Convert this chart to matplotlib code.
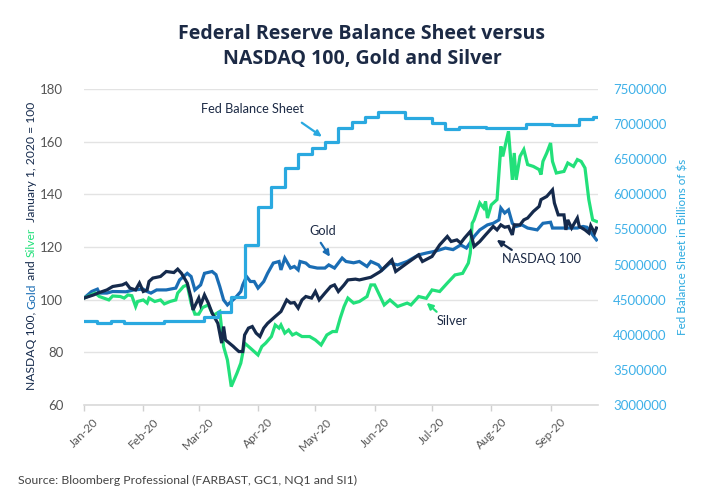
import matplotlib
matplotlib.use('Agg')
import matplotlib.pyplot as plt
import matplotlib.dates as mdates
import matplotlib.ticker as mticker
import pandas as pd

plt.rcParams['font.family'] = ['Lato', 'DejaVu Sans']

START = pd.Timestamp('2020-01-01')

# ---- data (days since 1 Jan 2020, index values Jan 1 2020 = 100) ----
nasdaq_day = [0, 5, 8, 12, 15, 20, 22, 24, 27, 28, 29, 31, 33, 34, 36, 40, 43, 47, 49, 51, 54, 56, 57, 60, 61,
              63, 65, 67, 68, 70, 72, 73, 74, 76, 78, 79, 81, 83, 84, 86, 88, 90, 92, 94, 96, 98, 100, 103, 106,
              108, 110, 112, 114, 116, 119, 121, 123, 126, 129, 131, 133, 136, 138, 142, 144, 150, 155, 161, 163,
              169, 175, 177, 182, 186, 190, 192, 195, 197, 199, 202, 204, 207, 210, 214, 216, 218, 220, 222, 224,
              225, 228, 230, 232, 235, 238, 239, 242, 245, 246, 248, 251, 252, 253, 255, 258, 259, 262, 264, 265,
              267, 268]
nasdaq_val = [100.6, 101.8, 102.7, 103.7, 105.0, 105.6, 106.3, 104.4, 103.7, 105.0, 106.3, 103.1, 103.7, 106.9,
              108.2, 108.8, 110.7, 110.3, 111.6, 110.0, 106.3, 100.6, 96.1, 100.6, 98.0, 101.8, 98.7, 94.9, 93.6,
              91.0, 83.5, 89.8, 84.7, 83.5, 82.3, 81.6, 80.3, 80.3, 86.6, 89.2, 89.8, 87.3, 86.0, 89.2, 91.0, 92.3,
              93.6, 95.5, 99.9, 98.7, 98.9, 96.8, 99.9, 101.2, 100.6, 103.1, 99.9, 102.5, 105.0, 105.6, 103.1,
              105.6, 107.5, 107.8, 107.5, 108.5, 110.7, 115.1, 110.7, 113.9, 117.0, 114.5, 116.4, 120.8, 124.0,
              122.1, 122.7, 121.5, 123.4, 125.9, 120.2, 122.1, 124.6, 127.8, 126.5, 128.4, 127.5, 127.8, 124.6,
              128.4, 128.4, 130.3, 131.0, 133.5, 135.4, 138.0, 139.2, 141.7, 136.7, 132.2, 132.2, 126.5, 130.3,
              127.2, 131.0, 127.8, 126.5, 125.3, 128.1, 125.3, 127.2]

gold_day = [0, 4, 7, 8, 12, 15, 22, 26, 31, 33, 35, 38, 43, 48, 50, 54, 56, 58, 61, 63, 67, 69, 71, 73, 75, 77,
            79, 82, 83, 85, 87, 89, 91, 94, 96, 99, 102, 103, 105, 108, 110, 112, 113, 116, 118, 122, 126, 128,
            131, 135, 137, 141, 144, 148, 150, 154, 156, 160, 164, 169, 175, 179, 183, 186, 189, 193, 197, 200,
            203, 204, 207, 211, 214, 217, 218, 220, 222, 224, 226, 229, 232, 237, 240, 244, 245, 252, 258, 261,
            263, 266, 268]
gold_val = [100.6, 103.1, 104.0, 102.5, 102.5, 103.1, 103.0, 103.7, 104.0, 103.1, 102.5, 103.7, 103.7, 104.4,
            107.5, 110.0, 108.8, 103.7, 105.6, 110.0, 110.7, 109.5, 105.0, 99.9, 98.0, 99.3, 100.6, 103.1, 105.6,
            108.8, 106.9, 106.9, 104.4, 106.9, 110.0, 113.9, 114.5, 111.3, 115.8, 112.0, 112.6, 111.3, 114.5,
            113.9, 112.6, 112.0, 112.0, 113.2, 112.0, 115.8, 114.5, 114.0, 114.5, 112.6, 114.5, 113.2, 111.3,
            113.9, 113.2, 114.5, 117.0, 117.7, 118.3, 118.9, 119.6, 119.0, 120.8, 119.6, 122.7, 124.0, 126.5,
            128.4, 129.0, 130.3, 134.8, 132.9, 134.1, 129.0, 127.8, 128.4, 127.2, 126.5, 129.0, 129.4, 127.2,
            127.2, 127.2, 127.8, 127.5, 124.6, 122.7]

silver_day = [0, 6, 8, 13, 15, 19, 21, 23, 25, 27, 28, 31, 33, 34, 37, 40, 42, 45, 48, 49, 52, 54, 56, 58, 60,
              62, 65, 67, 68, 71, 73, 75, 77, 80, 82, 84, 87, 91, 93, 95, 98, 100, 102, 103, 105, 107, 109, 111,
              114, 118, 121, 124, 127, 130, 132, 134, 136, 138, 141, 144, 148, 150, 152, 157, 160, 164, 169, 171,
              175, 179, 182, 186, 190, 194, 198, 201, 202, 203, 204, 207, 209, 210, 211, 213, 216, 218, 219, 221,
              222, 224, 225, 226, 228, 230, 232, 235, 238, 239, 240, 242, 244, 245, 247, 251, 253, 256, 258, 260,
              262, 264, 266, 268]
silver_val = [100.6, 102.5, 101.2, 99.9, 101.4, 101.2, 100.6, 101.8, 101.5, 97.4, 99.3, 99.9, 98.7, 100.6, 99.3,
              99.9, 98.4, 99.3, 99.9, 102.5, 105.0, 105.6, 98.7, 94.5, 94.5, 97.0, 98.0, 94.9, 94.2, 95.5, 82.2,
              77.1, 67.0, 72.1, 75.9, 83.5, 81.6, 79.0, 82.2, 83.5, 86.0, 90.4, 89.2, 90.4, 87.3, 88.5, 86.6, 87.3,
              86.0, 86.0, 84.7, 82.8, 86.6, 87.9, 87.9, 93.0, 97.4, 100.6, 98.7, 99.3, 101.2, 105.6, 105.6, 98.0,
              99.9, 97.4, 98.7, 98.0, 101.2, 100.5, 103.7, 103.1, 106.3, 109.4, 110.0, 113.9, 117.7, 129.0, 130.3,
              136.7, 134.8, 137.3, 131.0, 136.0, 138.0, 158.2, 154.4, 160.8, 163.9, 145.5, 155.7, 145.5, 154.4,
              157.0, 151.3, 150.6, 149.4, 147.5, 152.5, 155.7, 159.5, 152.5, 148.1, 148.7, 151.9, 150.6, 153.2,
              152.5, 150.0, 138.0, 130.3, 129.7]

# Fed balance sheet, weekly
fed_day = [0, 7, 14, 21, 28, 35, 42, 49, 56, 63, 70, 77, 84, 91, 98, 105, 112, 119, 126, 133, 140, 147, 154,
           161, 168, 175, 182, 189, 196, 203, 210, 217, 224, 231, 238, 245, 252, 259, 266, 268]
fed_val = [4200000, 4165000, 4190000, 4165000, 4165000, 4165000, 4200000, 4200000, 4190000, 4250000, 4330000,
           4540000, 5280000, 5820000, 6100000, 6370000, 6580000, 6660000, 6740000, 6950000, 7035000, 7105000,
           7177000, 7177000, 7090000, 7090000, 7020000, 6930000, 6965000, 6965000, 6940000, 6940000, 6940000,
           7000000, 7000000, 6990000, 6990000, 7070000, 7100000, 7100000]

month_ticks = ['2020-01-01', '2020-02-01', '2020-03-01', '2020-04-01', '2020-05-01', '2020-06-01',
               '2020-07-01', '2020-08-01', '2020-09-01']
left_ticks = [60, 80, 100, 120, 140, 160, 180]
right_ticks = [3000000, 3500000, 4000000, 4500000, 5000000, 5500000, 6000000, 6500000, 7000000, 7500000]

C_FED = '#2aa9e0'
C_GOLD = '#1a6db4'
C_NAS = '#152a4c'
C_SIL = '#22e07a'
C_TXT = '#1c2a45'
C_TICK = '#555555'


def to_dates(days):
    return START + pd.to_timedelta(days, unit='D')


assert len(nasdaq_day) == len(nasdaq_val)
assert len(gold_day) == len(gold_val)
assert len(silver_day) == len(silver_val)
assert len(fed_day) == len(fed_val)

fig = plt.figure(figsize=(7.2, 5), dpi=100)
ax = fig.add_axes([84 / 720, 95 / 500, (598 - 84) / 720, 316 / 500])
ax2 = ax.twinx()

LW = 2.3
ax.plot(to_dates(gold_day), gold_val, color=C_GOLD, lw=LW, zorder=3, solid_joinstyle='miter')
ax.plot(to_dates(silver_day), silver_val, color=C_SIL, lw=LW, zorder=4, solid_joinstyle='miter')
ax.plot(to_dates(nasdaq_day), nasdaq_val, color=C_NAS, lw=LW, zorder=5, solid_joinstyle='miter')
ax2.plot(to_dates(fed_day), fed_val, color=C_FED, lw=LW, drawstyle='steps-post')

xmin = START
xmax = START + pd.Timedelta(days=268.8)
ax.set_xlim(xmin, xmax)
ax.set_ylim(60, 180)
ax2.set_ylim(3000000, 7500000)

ax.set_yticks(left_ticks)
ax2.set_yticks(right_ticks)
ax2.yaxis.set_major_formatter(mticker.FuncFormatter(lambda v, p: f'{int(round(v))}'))

ax.set_xticks(pd.to_datetime(month_ticks))
ax.xaxis.set_major_formatter(mdates.DateFormatter('%b-%y'))

for a in (ax, ax2):
    for s in a.spines.values():
        s.set_visible(False)
ax.spines['bottom'].set_visible(True)
ax.spines['bottom'].set_color('#d9d9d9')
ax.spines['bottom'].set_linewidth(1.2)

ax.grid(axis='y', color='#e3e3e3', lw=1.0)
ax.set_axisbelow(True)

ax.tick_params(axis='y', length=0, pad=15, labelsize=9.5, labelcolor=C_TICK)
ax2.tick_params(axis='y', length=0, pad=11, labelsize=9.5, labelcolor='#3db0e8')
ax.tick_params(axis='x', length=4, width=1, color='#d0d0d0', pad=4, labelsize=8.5, labelcolor=C_TICK)
for lab in ax.get_xticklabels():
    lab.set_rotation(45)
    lab.set_ha('center')

# right label
fig.text(683 / 720, 1 - 247 / 500, 'Fed Balance Sheet in Billions of $s', rotation=90, ha='center',
         va='center', color=C_FED, fontsize=8.4)

# left multi-coloured label
pieces = [('NASDAQ 100, ', C_NAS), ('Gold', C_GOLD), (' and ', C_NAS), ('Silver', C_SIL),
          ('  January 1, 2020 = 100', C_NAS)]
LFS = 8.7
renderer = fig.canvas.get_renderer()


def text_len(s):
    t = fig.text(0, 0, s + '|', fontsize=LFS)
    t2 = fig.text(0, 0, '|', fontsize=LFS)
    w = t.get_window_extent(renderer).width - t2.get_window_extent(renderer).width
    t.remove()
    t2.remove()
    return w


full = ''.join(p[0] for p in pieces)
total = text_len(full)
cy = 1 - 246 / 500
cx = 31.5 / 720
y_px = cy * 500 - total / 2
acc = ''
for s, c in pieces:
    off = text_len(acc) if acc else 0.0
    fig.text(cx, (y_px + off) / 500, s, rotation=90, rotation_mode='anchor', ha='left', va='center',
             color=c, fontsize=LFS)
    acc += s

# title
TFONT = ['Open Sans', 'DejaVu Sans']
fig.text(362 / 720, 1 - 34 / 500, 'Federal Reserve Balance Sheet versus', ha='center', va='center',
         fontsize=14, fontweight='bold', color=C_TXT, family=TFONT)
fig.text(362 / 720, 1 - 59 / 500, 'NASDAQ 100, Gold and Silver', ha='center', va='center',
         fontsize=14, fontweight='bold', color=C_TXT, family=TFONT)

# source
fig.text(18 / 720, 1 - 480 / 500, 'Source: Bloomberg Professional (FARBAST, GC1, NQ1 and SI1)', ha='left',
         va='center', fontsize=8.8, color='#444444')

# annotations (positions in data space: day, index value)
ann_text = [('Fed Balance Sheet', 88.3, 172.5), ('Gold', 124.8, 126.2), ('NASDAQ 100', 239.4, 115.5),
            ('Silver', 192.3, 92.0)]
ann_arrow = [((113.9, 167.2), (124.4, 161.9), C_FED), ((123.8, 121.6), (128.6, 116.3), C_GOLD),
             ((223.7, 118.9), (215.8, 122.7), C_NAS), ((184.4, 95.4), (179.2, 98.8), C_SIL)]
for s, d, v in ann_text:
    ax.text(to_dates([d])[0], v, s, ha='center', va='center', fontsize=9.2, color=C_TXT, zorder=6)
for (td, tv), (hd, hv), c in ann_arrow:
    ax.annotate('', xy=(to_dates([hd])[0], hv), xytext=(to_dates([td])[0], tv),
                arrowprops=dict(arrowstyle='-|>', color=c, lw=1.6, mutation_scale=9, shrinkA=0, shrinkB=0),
                zorder=6)

fig.savefig('out.png', dpi=100, facecolor='white')
